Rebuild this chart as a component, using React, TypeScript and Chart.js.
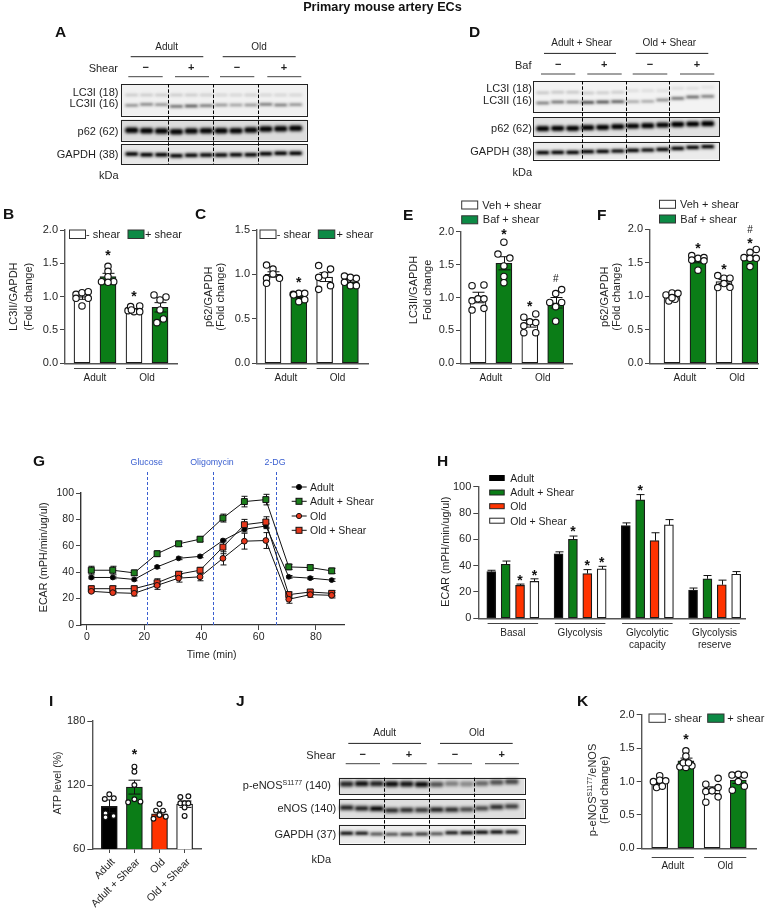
import React, { useEffect, useRef } from "react";
import { Chart, registerables } from "chart.js";

Chart.register(...registerables);
const FONT = '"Liberation Sans", Arial, Helvetica, sans-serif';
Chart.defaults.font.family = FONT;

const INK = "#1f1f1f";
const GREEN = "#0b7d17";
const LEGEND_GREEN = "#0c8a45";
const RED = "#ff3300";
const BLUE = "#3a5fd0";

// ---------- data: bar panels ----------
const B_MEANS = [1.0, 1.3, 0.8, 0.84];
const B_ERRS = [0.04, 0.05, 0.02, 0.07];
const B_DOTS = [
  [[-0.23, 1.035], [0, 1.06], [0.24, 1.075], [-0.23, 0.975], [0.24, 0.975], [0, 0.86]],
  [[0, 1.455], [0, 1.38], [0, 1.3], [-0.25, 1.225], [0.22, 1.225], [0, 1.215]],
  [[-0.23, 0.79], [-0.13, 0.85], [0.22, 0.86], [0, 0.775], [0.22, 0.775], [-0.1, 0.8]],
  [[-0.23, 1.025], [0.23, 0.995], [0, 0.95], [0, 0.8], [0.13, 0.665], [-0.12, 0.61]],
];
const B_MARKS = [[2, 1.64, "*"], [3, 1.025, "*"]];

const C_MEANS = [1.0, 0.76, 0.97, 0.92];
const C_ERRS = [0.03, 0.02, 0.05, 0.02];
const C_DOTS = [
  [[-0.25, 1.106], [0, 1.06], [-0.25, 0.956], [0, 1.005], [0.25, 0.956], [-0.25, 0.9]],
  [[-0.22, 0.776], [0, 0.787], [0.23, 0.787], [-0.2, 0.77], [0, 0.694], [0.23, 0.716]],
  [[-0.23, 1.1], [0.23, 1.06], [0, 0.994], [-0.23, 0.967], [0.23, 0.874], [-0.23, 0.832]],
  [[-0.23, 0.982], [0, 0.967], [0.23, 0.956], [-0.23, 0.911], [0, 0.874], [0.23, 0.874]],
];
const C_MARKS = [[2, 0.93, "*"]];

const E_MEANS = [1.0, 1.52, 0.6, 0.92];
const E_ERRS = [0.08, 0.1, 0.05, 0.08];
const E_DOTS = [
  [[-0.23, 1.18], [0.23, 1.19], [-0.23, 0.95], [0, 0.98], [0.23, 0.98], [-0.23, 0.81], [0.23, 0.835]],
  [[0, 1.84], [-0.23, 1.66], [0.23, 1.6], [0, 1.48], [0, 1.32], [0, 1.225]],
  [[-0.23, 0.7], [0.23, 0.75], [0, 0.63], [-0.23, 0.57], [0.23, 0.62], [0.23, 0.465], [-0.23, 0.465]],
  [[0.23, 1.12], [0, 1.06], [-0.23, 0.925], [0.23, 0.925], [0, 0.86], [0, 0.64]],
];
const E_MARKS = [[2, 1.99, "*"], [3, 0.9, "*"], [4, 1.27, "#"]];

const F_MEANS = [1.0, 1.53, 1.22, 1.57];
const F_ERRS = [0.03, 0.03, 0.03, 0.03];
const F_DOTS = [
  [[-0.23, 1.02], [0, 1.05], [0.23, 1.045], [-0.12, 0.93], [0.12, 0.955], [0, 0.98]],
  [[-0.24, 1.607], [0, 1.567], [0.23, 1.577], [-0.24, 1.54], [0, 1.39], [0.23, 1.53]],
  [[-0.24, 1.31], [0, 1.27], [0.23, 1.27], [0, 1.19], [-0.24, 1.13], [0.23, 1.134]],
  [[0.24, 1.7], [0, 1.657], [-0.23, 1.577], [0, 1.567], [0.24, 1.567], [0, 1.443]],
];
const F_MARKS = [[2, 1.75, "*"], [3, 1.43, "*"], [4, 1.825, "*"], [4, 1.99, "#"]];

const H_MEANS = [35.5, 41, 25, 28, 49, 60, 34, 37.5, 70.5, 90, 59, 71, 21.5, 30, 25.5, 33.5];
const H_ERRS = [1, 2.5, 1, 2, 1.5, 2.5, 3, 2, 2, 4, 6, 4, 1.5, 2.5, 3.5, 2];
const H_POSITIONS = [1, 2, 3, 4, 5.68, 6.68, 7.68, 8.68, 10.36, 11.36, 12.36, 13.36, 15.04, 16.04, 17.04, 18.04];
const H_MARKS = [[3, 30.6, "*"], [4, 34, "*"], [6.68, 67.6, "*"], [7.68, 41.8, "*"], [8.68, 43.8, "*"], [11.36, 98.7, "*"]];
const H_GROUPS = [
  [1, 4, "Basal"],
  [5.68, 8.68, "Glycolysis"],
  [10.36, 13.36, ["Glycolytic", "capacity"]],
  [15.04, 18.04, ["Glycolysis", "reserve"]],
];

const I_LABELS = ["Adult", "Adult + Shear", "Old", "Old + Shear"];
const I_MEANS = [100, 118, 93, 102];
const I_ERRS = [6, 6.5, 2, 3];
const I_DOTS = [
  [[0, 111.25], [-0.18, 106.9], [0.18, 107.5], [-0.15, 93.4], [-0.15, 89.7], [0.17, 90.9]],
  [[0, 137.2], [0, 132.5], [0, 120], [0, 106.6], [-0.25, 103.75], [0.24, 104.4]],
  [[0, 102.2], [-0.14, 96], [0.14, 96], [0, 91.9], [-0.24, 88.4], [0.25, 90.3]],
  [[-0.17, 108.75], [0.15, 109.4], [-0.17, 102.8], [0, 102.8], [0.15, 102.8], [0, 99], [0, 91]],
];
const I_MARKS = [[2, 150.6, "*"]];

const K_MEANS = [1.0, 1.31, 0.87, 1.02];
const K_ERRS = [0.03, 0.04, 0.05, 0.05];
const K_DOTS = [
  [[0, 1.087], [-0.24, 0.998], [0, 1.02], [0.23, 1.01], [-0.12, 0.91], [0.1, 0.93]],
  [[0, 1.46], [0, 1.38], [-0.23, 1.22], [0.23, 1.235], [0, 1.21], [-0.1, 1.28], [0.1, 1.28]],
  [[-0.24, 0.96], [0.23, 1.047], [-0.24, 0.85], [0.23, 0.91], [0, 0.86], [0.23, 0.77], [-0.24, 0.69]],
  [[-0.24, 1.097], [0, 1.107], [0.23, 1.097], [0, 1.0], [0.23, 0.93], [-0.23, 0.87]],
];
const K_MARKS = [[2, 1.655, "*"]];

const GROUP_LABELS = [[1, 2, "Adult"], [3, 4, "Old"]];
const WG = ["#ffffff", GREEN, "#ffffff", GREEN];
const H_COLORS = Array.from({ length: 16 }, (_, i) => ["#000000", GREEN, RED, "#ffffff"][i % 4]);
const I_COLORS = ["#000000", GREEN, RED, "#ffffff"];

// ---------- data: ECAR time course ----------
const G_TIME = [1.5, 9, 16.5, 24.5, 32, 39.5, 47.5, 55, 62.5, 70.5, 78, 85.5];
const G_ADULT = [36, 36, 34.5, 44, 50.5, 52, 64, 72.5, 75, 36.5, 35.5, 34];
const G_ADULT_SHEAR = [41.5, 41.5, 39.5, 54, 61.5, 65, 81, 93.5, 95, 44, 43.5, 41];
const G_OLD = [25.5, 24.5, 24, 30, 35.5, 36.5, 50.5, 63.5, 64, 19.5, 23, 22.5];
const G_OLD_SHEAR = [27.5, 27.5, 27.5, 32, 38.5, 41.5, 59, 76, 78, 23, 25, 24];
const G_ADULT_ERR = [1, 1, 1, 1, 1, 1, 1, 2, 2, 1, 1, 1];
const G_ADULT_SHEAR_ERR = [3, 3, 2, 2, 2, 2, 3, 4, 4, 2, 2, 2];
const G_OLD_ERR = [1, 1, 2, 3, 3, 3, 5, 6, 6, 3, 2, 2];
const G_OLD_SHEAR_ERR = [2, 2, 2, 3, 2, 2, 5, 4, 4, 2, 2, 2];
const G_XTICKS = [0, 20, 40, 60, 80];
const G_INJECTIONS = [21, 44, 66];

// ---------- data: blot band positions (y) and intensities (a), one per lane ----------
const A_LC3I_Y = [285, 285, 285, 285, 285, 285, 285, 285, 285, 285, 285, 285];
const A_LC3I_A = [0.14, 0.14, 0.14, 0.14, 0.14, 0.12, 0.1, 0.1, 0.12, 0.1, 0.1, 0.1];
const A_LC3II_Y = [316, 313, 314, 319, 318, 317, 315, 315, 315, 313, 315, 314];
const A_LC3II_A = [0.4, 0.45, 0.4, 0.55, 0.6, 0.5, 0.35, 0.3, 0.35, 0.5, 0.45, 0.4];
const A_P62_Y = [391, 392, 393, 395, 393, 392, 392, 392, 390, 387, 386, 385];
const A_P62_A = [0.97, 0.97, 0.97, 0.95, 0.95, 0.95, 0.97, 0.95, 0.95, 0.97, 0.95, 0.97];
const A_GAPDH_Y = [462, 464, 464, 467, 466, 465, 465, 464, 464, 461, 460, 460];
const A_GAPDH_A = [1, 1, 1, 0.97, 0.97, 0.97, 0.97, 0.97, 0.97, 1, 1, 1];

const D_LC3I_Y = [278, 277, 277, 279, 278, 277, 272, 272, 272, 265, 265, 262];
const D_LC3I_A = [0.16, 0.16, 0.16, 0.15, 0.14, 0.14, 0.08, 0.08, 0.08, 0.08, 0.08, 0.06];
const D_LC3II_Y = [309, 306, 306, 307, 306, 305, 305, 304, 300, 295, 291, 289];
const D_LC3II_A = [0.45, 0.5, 0.45, 0.75, 0.65, 0.65, 0.3, 0.3, 0.4, 0.55, 0.55, 0.5];
const D_P62_Y = [386, 385, 385, 383, 382, 380, 378, 377, 375, 373, 372, 371];
const D_P62_A = [0.97, 0.97, 0.97, 0.97, 0.97, 0.97, 0.97, 0.97, 0.97, 1, 1, 1];
const D_GAPDH_Y = [458, 457, 457, 455, 454, 453, 451, 450, 448, 445, 442, 440];
const D_GAPDH_A = [1, 1, 1, 1, 1, 1, 1, 1, 1, 1, 1, 1];

const J_PENOS_Y = [312, 311, 311, 312, 312, 313, 313, 311, 312, 310, 307, 305];
const J_PENOS_A = [0.75, 0.9, 0.8, 0.9, 0.85, 0.95, 0.55, 0.35, 0.3, 0.45, 0.55, 0.6];
const J_ENOS_Y = [383, 385, 386, 391, 390, 390, 389, 389, 388, 385, 381, 379];
const J_ENOS_A = [0.8, 0.8, 0.98, 0.75, 0.7, 0.65, 0.8, 0.75, 0.6, 0.6, 0.7, 0.65];
const J_GAPDH_Y = [460, 460, 462, 463, 463, 462, 461, 458, 458, 457, 456, 456];
const J_GAPDH_A = [0.95, 0.9, 0.6, 0.6, 0.7, 0.75, 0.6, 0.9, 0.95, 1, 1, 0.9];

// ---------- shared chart pieces ----------
function drawMarks(chart, marks) {
  const { ctx, scales } = chart;
  ctx.save();
  ctx.fillStyle = "#111";
  ctx.textAlign = "center";
  for (const [x, y, t] of marks) {
    const px = scales.x.getPixelForValue(x);
    const py = scales.y.getPixelForValue(y);
    if (t === "*") {
      ctx.font = `bold 14px ${FONT}`;
      ctx.textBaseline = "alphabetic";
      ctx.fillText(t, px, py + 6.5);
    } else {
      ctx.font = `10px ${FONT}`;
      ctx.textBaseline = "middle";
      ctx.fillText(t, px, py);
    }
  }
  ctx.restore();
}

function drawErrs(chart, items, cap, upOnly) {
  const { ctx, scales } = chart;
  ctx.save();
  ctx.lineWidth = 1;
  ctx.strokeStyle = "#111";
  for (const [x, y, e] of items) {
    const px = Math.round(scales.x.getPixelForValue(x)) + 0.5;
    const hi = scales.y.getPixelForValue(y + e);
    const lo = scales.y.getPixelForValue(upOnly ? y : y - e);
    ctx.beginPath();
    ctx.moveTo(px, lo);
    ctx.lineTo(px, hi);
    ctx.moveTo(px - cap, hi);
    ctx.lineTo(px + cap, hi);
    if (!upOnly) {
      ctx.moveTo(px - cap, lo);
      ctx.lineTo(px + cap, lo);
    }
    ctx.stroke();
  }
  ctx.restore();
}

function yAxis(p, marginL, digits) {
  return {
    type: "linear",
    min: p.yMin ?? 0,
    max: p.yMax,
    ticks: {
      stepSize: p.yStep,
      color: INK,
      font: { size: p.fontSize ?? 11 },
      padding: 2,
      callback: (v) => Number(v).toFixed(digits),
    },
    grid: { drawOnChartArea: false, drawTicks: true, tickLength: 5, color: "#444", lineWidth: 1 },
    border: { display: true, color: p.axis ?? "#555", width: 1.4 },
    afterFit: (s) => { s.width = marginL; },
  };
}

function barConfig(p) {
  const pos = p.positions ?? p.means.map((_, i) => i + 1);
  const xMin = 1 - (p.c0 - p.x0) / p.step;
  const xMax = xMin + (p.x1 - p.x0) / p.step;
  const datasets = [];
  if (p.dots) {
    datasets.push({
      type: "scatter",
      order: 0,
      clip: false,
      data: p.dots.flatMap((d, i) => d.map(([dx, v]) => ({ x: pos[i] + dx, y: v }))),
      pointRadius: p.r ?? 3.2,
      pointBackgroundColor: "#ffffff",
      pointBorderColor: "#111",
      pointBorderWidth: 1.15,
      showLine: false,
    });
  }
  datasets.push({
    type: "bar",
    order: 1,
    data: p.means.map((m, i) => ({ x: pos[i], y: m })),
    backgroundColor: p.colors,
    borderColor: "#1a1a1a",
    borderWidth: 1.2,
    borderSkipped: false,
    barThickness: p.barW,
  });
  const tickDefs = p.ticksAt;
  const items = p.means.map((m, i) => [pos[i], m, p.errs[i]]);
  return {
    type: "bar",
    data: { datasets },
    plugins: [{
      id: "overlay",
      afterDatasetDraw(chart, args) {
        if (chart.data.datasets[args.index].type === "bar") drawErrs(chart, items, p.cap ?? 5, p.upOnly);
      },
      afterDatasetsDraw(chart) {
        const { ctx, scales, chartArea } = chart;
        if (p.groups) {
          ctx.save();
          ctx.strokeStyle = p.groupColor ?? "#444";
          ctx.lineWidth = 1;
          const y = Math.round(chartArea.bottom + p.groupDrop) + 0.5;
          for (const [a, b] of p.groups) {
            ctx.beginPath();
            ctx.moveTo(scales.x.getPixelForValue(a) - p.groupHalf, y);
            ctx.lineTo(scales.x.getPixelForValue(b) + p.groupHalf, y);
            ctx.stroke();
          }
          ctx.restore();
        }
        drawMarks(chart, p.marks);
      },
    }],
    options: {
      responsive: false,
      animation: false,
      events: [],
      layout: { padding: { top: p.mT, right: p.mR, left: 0, bottom: 0 } },
      plugins: { legend: { display: false }, tooltip: { enabled: false } },
      scales: {
        x: {
          type: "linear",
          offset: false,
          min: xMin,
          max: xMax,
          afterBuildTicks: (s) => {
            s.ticks = tickDefs.map((t) => ({ value: t.v }));
          },
          ticks: {
            autoSkip: false,
            color: INK,
            font: { size: p.xFont ?? 10 },
            padding: p.xPad ?? 8.5,
            labelOffset: p.xShift ?? 0,
            maxRotation: p.rot ?? 0,
            minRotation: p.rot ?? 0,
            callback: (v) => tickDefs.find((t) => Math.abs(t.v - v) < 1e-6)?.label ?? "",
          },
          grid: {
            offset: false,
            drawOnChartArea: false,
            drawTicks: !!p.rot,
            tickLength: p.rot ? 4 : 0,
            color: "#444",
          },
          border: { display: true, color: p.axis ?? "#555", width: 1.4 },
          afterFit: (s) => { s.height = p.mB; },
        },
        y: yAxis(p, p.mL, p.digits ?? 1),
      },
    },
  };
}

function groupTicks(groups) {
  return groups.map(([a, b, label]) => ({ v: (a + b) / 2, label }));
}

function fourBars(c) {
  return {
    mL: 45, mR: 6, mT: 14, mB: 32, barW: 16, cap: 6,
    groups: GROUP_LABELS, groupDrop: 5, groupHalf: 8,
    ticksAt: groupTicks(GROUP_LABELS), colors: WG, ...c,
  };
}

const PB = fourBars({ x0: 65, x1: 177, top: 230, bottom: 363.3, c0: 82, step: 26, yMax: 2, yStep: 0.5, means: B_MEANS, errs: B_ERRS, dots: B_DOTS, marks: B_MARKS });
const PC = fourBars({ x0: 257, x1: 368.3, top: 230, bottom: 363.3, c0: 273, step: 25.8, yMax: 1.5, yStep: 0.5, means: C_MEANS, errs: C_ERRS, dots: C_DOTS, marks: C_MARKS });
const PE = fourBars({ x0: 461, x1: 572.3, top: 231.7, bottom: 363.3, c0: 478, step: 25.9, yMax: 2, yStep: 0.5, means: E_MEANS, errs: E_ERRS, dots: E_DOTS, marks: E_MARKS });
const PF = fourBars({ x0: 650, x1: 758.3, top: 229.3, bottom: 363.3, c0: 672, step: 26, yMax: 2, yStep: 0.5, means: F_MEANS, errs: F_ERRS, dots: F_DOTS, marks: F_MARKS, groupColor: "#111" });
const PK = fourBars({ x0: 641.7, x1: 756, top: 714.7, bottom: 848.3, c0: 659.7, step: 26.2, yMax: 2, yStep: 0.5, means: K_MEANS, errs: K_ERRS, dots: K_DOTS, marks: K_MARKS, groupDrop: 9, xPad: 12 });
const PH = {
  x0: 478.3, x1: 745, top: 486.7, bottom: 618.3, c0: 491.3, step: 14.37,
  mL: 45, mR: 6, mT: 14, mB: 46, barW: 9, cap: 4, upOnly: true,
  yMax: 100, yStep: 20, digits: 0, positions: H_POSITIONS, colors: H_COLORS,
  means: H_MEANS, errs: H_ERRS, marks: H_MARKS,
  groups: H_GROUPS, groupDrop: 5, groupHalf: 3.7, ticksAt: groupTicks(H_GROUPS), xPad: 9,
};
const PI = {
  x0: 92.3, x1: 201.7, top: 721, bottom: 849, c0: 109.3, step: 25.1,
  mL: 45, mR: 6, mT: 14, mB: 60, barW: 16, cap: 6, r: 2.4,
  yMin: 60, yMax: 180, yStep: 60, digits: 0, colors: I_COLORS,
  means: I_MEANS, errs: I_ERRS, dots: I_DOTS, marks: I_MARKS, rot: 45, xPad: 3, xFont: 10.5, xShift: 4,
  ticksAt: I_LABELS.map((label, i) => ({ v: i + 1, label })),
};

const GX0 = 86.7;
const GXU = 2.865;
const PG = { x0: 80.7, x1: 344, top: 492.7, bottom: 624.3, mL: 45, mR: 6, mT: 40, mB: 26, yMax: 100, yStep: 20, fontSize: 10.5, axis: "#333" };

function gSeries(values, style) {
  return {
    data: values.map((v, i) => ({ x: G_TIME[i], y: v })),
    borderColor: "#111",
    borderWidth: 1,
    pointBorderColor: "#111",
    pointBorderWidth: 1,
    tension: 0,
    clip: false,
    ...style,
  };
}

function gConfig() {
  const all = [
    [G_ADULT, G_ADULT_ERR],
    [G_ADULT_SHEAR, G_ADULT_SHEAR_ERR],
    [G_OLD, G_OLD_ERR],
    [G_OLD_SHEAR, G_OLD_SHEAR_ERR],
  ];
  return {
    type: "line",
    data: {
      datasets: [
        gSeries(G_OLD, { label: "Old", pointStyle: "circle", pointRadius: 2.9, pointBackgroundColor: "#e8371b", order: 0 }),
        gSeries(G_OLD_SHEAR, { label: "Old + Shear", pointStyle: "rect", pointRadius: 4.2, pointBackgroundColor: "#e8371b", order: 1 }),
        gSeries(G_ADULT, { label: "Adult", pointStyle: "circle", pointRadius: 2.4, pointBackgroundColor: "#000", order: 2 }),
        gSeries(G_ADULT_SHEAR, { label: "Adult + Shear", pointStyle: "rect", pointRadius: 4.2, pointBackgroundColor: "#1c7f1c", order: 3 }),
      ],
    },
    plugins: [{
      id: "overlay",
      beforeDatasetsDraw(chart) {
        const { ctx, scales } = chart;
        ctx.save();
        ctx.strokeStyle = BLUE;
        ctx.lineWidth = 1;
        ctx.setLineDash([3, 2]);
        for (const t of G_INJECTIONS) {
          const x = Math.round(scales.x.getPixelForValue(t)) + 0.5;
          ctx.beginPath();
          ctx.moveTo(x, scales.y.getPixelForValue(0));
          ctx.lineTo(x, scales.y.getPixelForValue(117));
          ctx.stroke();
        }
        ctx.restore();
        for (const [vals, errs] of all) {
          drawErrs(chart, vals.map((v, i) => [G_TIME[i], v, errs[i]]), 3, false);
        }
      },
    }],
    options: {
      responsive: false,
      animation: false,
      events: [],
      layout: { padding: { top: PG.mT, right: PG.mR, left: 0, bottom: 0 } },
      plugins: { legend: { display: false }, tooltip: { enabled: false } },
      scales: {
        x: {
          type: "linear",
          min: (PG.x0 - GX0) / GXU,
          max: (PG.x1 - GX0) / GXU,
          afterBuildTicks: (s) => { s.ticks = G_XTICKS.map((value) => ({ value })); },
          ticks: { color: INK, font: { size: 10.5 }, padding: 1, maxRotation: 0, autoSkip: false },
          grid: { drawOnChartArea: false, tickLength: 5, color: "#444" },
          border: { display: true, color: "#333", width: 1.2 },
          afterFit: (s) => { s.height = PG.mB; },
        },
        y: yAxis(PG, PG.mL, 0),
      },
    },
  };
}

// ---------- blots ----------
function blotConfig(b) {
  const lane = (px) => (px - b.firstX) / b.stepX;
  const toY = (py) => (py - b.offsetY) * 3;
  const datasets = [];
  for (const row of b.rows) {
    for (const band of row.bands) {
      band.y.forEach((y, i) => {
        const half = (b.stepX * 0.42 - band.w / 2) / b.stepX;
        const seg = [{ x: i - half, y }, { x: i + half, y }];
        const common = { data: seg, pointRadius: 0, borderCapStyle: "round", clip: false, tension: 0 };
        datasets.push({ ...common, borderColor: `rgba(0,0,0,${band.a[i]})`, borderWidth: band.w, order: 0 });
        datasets.push({ ...common, borderColor: `rgba(0,0,0,${band.a[i] * row.halo})`, borderWidth: band.w + 4, order: 1 });
      });
    }
  }
  return {
    type: "line",
    data: { datasets },
    plugins: [{
      id: "blot",
      beforeDatasetsDraw(chart) {
        const { ctx, scales } = chart;
        const xL = scales.x.getPixelForValue(lane(b.frameL));
        const xR = scales.x.getPixelForValue(lane(b.frameR));
        for (const row of b.rows) {
          ctx.fillStyle = row.bg;
          const t = scales.y.getPixelForValue(row.top);
          ctx.fillRect(xL, t, xR - xL, scales.y.getPixelForValue(row.bottom) - t);
        }
        ctx.save();
        ctx.filter = "blur(0.8px)";
      },
      afterDatasetsDraw(chart) {
        const { ctx, scales } = chart;
        ctx.restore();
        const xL = scales.x.getPixelForValue(lane(b.frameL));
        const xR = scales.x.getPixelForValue(lane(b.frameR));
        ctx.save();
        ctx.strokeStyle = "#222";
        ctx.lineWidth = 1;
        for (const row of b.rows) {
          const t = scales.y.getPixelForValue(row.top);
          ctx.strokeRect(Math.round(xL) + 0.5, Math.round(t) + 0.5, Math.round(xR - xL), Math.round(scales.y.getPixelForValue(row.bottom) - t));
        }
        ctx.strokeStyle = "#000";
        ctx.setLineDash([3.5, 1.8]);
        const first = b.rows[0];
        const last = b.rows[b.rows.length - 1];
        for (const d of b.dashes) {
          const x = Math.round(scales.x.getPixelForValue(d)) + 0.5;
          ctx.beginPath();
          ctx.moveTo(x, scales.y.getPixelForValue(first.top));
          ctx.lineTo(x, scales.y.getPixelForValue(last.bottom));
          ctx.stroke();
        }
        ctx.restore();
      },
    }],
    options: {
      responsive: false,
      animation: false,
      events: [],
      plugins: { legend: { display: false }, tooltip: { enabled: false } },
      scales: {
        x: { type: "linear", display: false, min: lane(b.left), max: lane(b.left + b.width) },
        y: { type: "linear", display: false, reverse: true, min: toY(b.top), max: toY(b.top + b.height) },
      },
    },
  };
}

const BLOT_A = {
  left: 119, width: 190, top: 82, height: 84, offsetY: 0, firstX: 131.7, stepX: 14.9, frameL: 120.7, frameR: 306.7,
  dashes: [2.46, 5.44, 8.46],
  rows: [
    { top: 252, bottom: 347, bg: "#f1f1f1", halo: 0.12, bands: [{ y: A_LC3I_Y, a: A_LC3I_A, w: 2.5 }, { y: A_LC3II_Y, a: A_LC3II_A, w: 2.4 }] },
    { top: 359, bottom: 422, bg: "#dcdcdc", halo: 0.22, bands: [{ y: A_P62_Y, a: A_P62_A, w: 5 }] },
    { top: 433, bottom: 493, bg: "#e8e8e8", halo: 0.15, bands: [{ y: A_GAPDH_Y, a: A_GAPDH_A, w: 3.5 }] },
  ],
};
const BLOT_D = {
  left: 532, width: 190, top: 79, height: 83, offsetY: 0, firstX: 542.7, stepX: 15, frameL: 533.3, frameR: 719.3,
  dashes: [2.6, 5.55, 8.45],
  rows: [
    { top: 243, bottom: 337, bg: "#f3f3f3", halo: 0.12, bands: [{ y: D_LC3I_Y, a: D_LC3I_A, w: 2.5 }, { y: D_LC3II_Y, a: D_LC3II_A, w: 2.4 }] },
    { top: 352, bottom: 409, bg: "#e2e2e2", halo: 0.2, bands: [{ y: D_P62_Y, a: D_P62_A, w: 4.6 }] },
    { top: 425, bottom: 478, bg: "#ebebeb", halo: 0.15, bands: [{ y: D_GAPDH_Y, a: D_GAPDH_A, w: 3.2 }] },
  ],
};
const BLOT_J = {
  left: 337, width: 190, top: 776, height: 70, offsetY: 680, firstX: 346.7, stepX: 15, frameL: 338.7, frameR: 524.3,
  dashes: [2.5, 5.5, 8.5],
  rows: [
    { top: 293, bottom: 342, bg: "#dedede", halo: 0.3, bands: [{ y: J_PENOS_Y, a: J_PENOS_A, w: 4.4 }] },
    { top: 358, bottom: 414, bg: "#dedede", halo: 0.3, bands: [{ y: J_ENOS_Y, a: J_ENOS_A, w: 3.8 }] },
    { top: 434, bottom: 490, bg: "#ececec", halo: 0.15, bands: [{ y: J_GAPDH_Y, a: J_GAPDH_A, w: 3 }] },
  ],
};

// ---------- components ----------
function Canvas({ left, top, width, height, build }) {
  const ref = useRef(null);
  useEffect(() => {
    const chart = new Chart(ref.current, build());
    return () => chart.destroy();
  }, []);
  return <canvas ref={ref} width={width} height={height} style={{ position: "absolute", left, top, display: "block" }} />;
}

function PlotCanvas({ p, config }) {
  const left = Math.round(p.x0 - p.mL);
  const top = Math.round(p.top - p.mT);
  const fix = { ...p, mL: p.x0 - left, mT: p.top - top };
  const width = Math.ceil(p.x1 + p.mR - left);
  const height = Math.ceil(p.bottom + p.mB - top);
  const fixed = { ...fix, mR: width - (p.x1 - left), mB: height - (p.bottom - top) };
  return <Canvas left={left} top={top} width={width} height={height} build={() => config(fixed)} />;
}

function T({ x, y, a = "start", s = 11, b = false, c = INK, r = 0, children }) {
  return (
    <text
      x={x}
      y={y}
      textAnchor={a}
      dominantBaseline="central"
      fontSize={s}
      fontWeight={b ? "bold" : "normal"}
      fill={c}
      transform={r ? `rotate(${r} ${x} ${y})` : undefined}
    >
      {children}
    </text>
  );
}

function Rule({ x1, x2, y, c = "#333" }) {
  return <line x1={x1} x2={x2} y1={y} y2={y} stroke={c} strokeWidth={1} />;
}

function Box({ x, y, w, h, fill }) {
  return <rect x={x} y={y} width={w} height={h} fill={fill} stroke="#333" strokeWidth={1} />;
}

function BlotHeader({ groups, sign, signRight, signY, lineY, names, nameY, sideLabels }) {
  return (
    <g>
      {groups.map(([t, cx, x1, x2], i) => (
        <g key={i}>
          <T x={cx} y={nameY} a="middle" s={10}>{t}</T>
          <Rule x1={x1} x2={x2} y={nameY + 10.7} c="#222" />
        </g>
      ))}
      <T x={signRight} y={signY + 1} a="end">{sign}</T>
      {names.map(([t, cx, x1, x2], i) => (
        <g key={i}>
          <T x={cx} y={signY} a="middle" s={11} b>{t}</T>
          <Rule x1={x1} x2={x2} y={lineY} c="#444" />
        </g>
      ))}
      {sideLabels.map(([t, y], i) => (
        <T key={i} x={signRight + 0.5} y={y} a="end">{t}</T>
      ))}
    </g>
  );
}

function GMarker({ y, kind, fill }) {
  return (
    <g>
      <line x1={291.7} x2={306.7} y1={y} y2={y} stroke="#111" strokeWidth={1} />
      {kind === "c" ? (
        <circle cx={299} cy={y} r={2.6} fill={fill} stroke="#111" />
      ) : (
        <rect x={296} y={y - 3} width={6} height={6} fill={fill} stroke="#111" />
      )}
    </g>
  );
}

export default function App() {
  return (
    <div style={{ position: "absolute", left: 0, top: 0, width: 770, height: 910, overflow: "hidden", background: "#fff", fontFamily: FONT }}>
      <Canvas left={BLOT_A.left} top={BLOT_A.top} width={BLOT_A.width} height={BLOT_A.height} build={() => blotConfig(BLOT_A)} />
      <Canvas left={BLOT_D.left} top={BLOT_D.top} width={BLOT_D.width} height={BLOT_D.height} build={() => blotConfig(BLOT_D)} />
      <Canvas left={BLOT_J.left} top={BLOT_J.top} width={BLOT_J.width} height={BLOT_J.height} build={() => blotConfig(BLOT_J)} />
      <PlotCanvas p={PB} config={barConfig} />
      <PlotCanvas p={PC} config={barConfig} />
      <PlotCanvas p={PE} config={barConfig} />
      <PlotCanvas p={PF} config={barConfig} />
      <PlotCanvas p={PH} config={barConfig} />
      <PlotCanvas p={PI} config={barConfig} />
      <PlotCanvas p={PK} config={barConfig} />
      <PlotCanvas p={PG} config={gConfig} />
      <svg width={770} height={910} style={{ position: "absolute", left: 0, top: 0, pointerEvents: "none" }} fontFamily={FONT}>
        <T x={382.5} y={7} a="middle" s={12.7} b c="#111">Primary mouse artery ECs</T>

        {[["A", 55, 31.7], ["D", 469, 31.7], ["B", 3, 213.5], ["C", 195, 213.5], ["E", 403, 214], ["F", 597, 214], ["G", 33, 460.7], ["H", 437, 460], ["I", 49, 700], ["J", 236, 700], ["K", 577, 700]].map(([t, x, y]) => (
          <T key={t} x={x} y={y} s={15.5} b c="#111">{t}</T>
        ))}

        <BlotHeader
          groups={[["Adult", 166.7, 130.7, 203.3], ["Old", 259, 222.7, 295.7]]}
          nameY={46}
          sign="Shear"
          signRight={118}
          signY={66.5}
          lineY={76.7}
          names={[["−", 145.7, 128.3, 162.7], ["+", 191.3, 175, 209], ["−", 237, 220, 254.3], ["+", 284, 267.3, 301.3]]}
          sideLabels={[["LC3I (18)", 91.7], ["LC3II (16)", 103.3], ["p62 (62)", 131.3], ["GAPDH (38)", 154], ["kDa", 175]]}
        />
        <BlotHeader
          groups={[["Adult + Shear", 581.7, 544, 616], ["Old + Shear", 669.3, 635.7, 708.3]]}
          nameY={42.7}
          sign="Baf"
          signRight={531.5}
          signY={64}
          lineY={74}
          names={[["−", 558.3, 541, 575.3], ["+", 604.3, 587.3, 621.7], ["−", 650, 632.7, 667.3], ["+", 697, 680, 714.3]]}
          sideLabels={[["LC3I (18)", 87.7], ["LC3II (16)", 100], ["p62 (62)", 128.3], ["GAPDH (38)", 150.7], ["kDa", 171.7]]}
        />
        <BlotHeader
          groups={[["Adult", 384.7, 348.3, 421], ["Old", 476.7, 440, 512.7]]}
          nameY={732.7}
          sign="Shear"
          signRight={335.7}
          signY={754}
          lineY={763.7}
          names={[["−", 362.7, 345.7, 380], ["+", 409, 392.3, 426.7], ["−", 455, 437.7, 472], ["+", 501.7, 485, 519]]}
          sideLabels={[["eNOS (140)", 808], ["GAPDH (37)", 834]]}
        />
        <T x={331} y={785.3} a="end">
          p-eNOS<tspan fontSize={7} dy={-3}>S1177</tspan><tspan dy={3}> (140)</tspan>
        </T>
        <T x={331} y={859} a="end">kDa</T>

        {/* B */}
        <T x={13.5} y={296.7} a="middle" r={-90}>LC3II/GAPDH</T>
        <T x={28.5} y={296.7} a="middle" r={-90}>(Fold change)</T>
        <Box x={69.5} y={230} w={16} h={8.5} fill="#fff" />
        <T x={86} y={234.3}>- shear</T>
        <Box x={128} y={230} w={16} h={8.5} fill={LEGEND_GREEN} />
        <T x={145} y={234.3}>+ shear</T>

        {/* C */}
        <T x={208.3} y={296.7} a="middle" r={-90}>p62/GAPDH</T>
        <T x={220.5} y={296.7} a="middle" r={-90}>(Fold change)</T>
        <Box x={260} y={230} w={16} h={8.5} fill="#fff" />
        <T x={276.7} y={234.3}>- shear</T>
        <Box x={318.3} y={230} w={16.5} h={8.5} fill={LEGEND_GREEN} />
        <T x={336.5} y={234.3}>+ shear</T>

        {/* E */}
        <T x={413.3} y={290} a="middle" r={-90}>LC3II/GAPDH</T>
        <T x={426.7} y={290} a="middle" r={-90}>Fold change</T>
        <Box x={461.7} y={201} w={16} h={8} fill="#fff" />
        <T x={482.3} y={205}>Veh + shear</T>
        <Box x={461.7} y={215.8} w={16} h={8} fill={LEGEND_GREEN} />
        <T x={482.8} y={219.3}>Baf + shear</T>

        {/* F */}
        <T x={604} y={296.7} a="middle" r={-90}>p62/GAPDH</T>
        <T x={615.7} y={296.7} a="middle" r={-90}>(Fold change)</T>
        <Box x={659.5} y={200.3} w={16} h={8} fill="#fff" />
        <T x={680} y={204.3}>Veh + shear</T>
        <Box x={659.5} y={215} w={16} h={8} fill={LEGEND_GREEN} />
        <T x={680.3} y={218.7}>Baf + shear</T>

        {/* G */}
        <T x={42.7} y={557.3} a="middle" s={10.7} r={-90}>ECAR (mPH/min/ug/ul)</T>
        <T x={211.7} y={654.3} a="middle" s={10.5}>Time (min)</T>
        <T x={146.7} y={462.3} a="middle" s={8.8} c={BLUE}>Glucose</T>
        <T x={212} y={461.7} a="middle" s={8.8} c={BLUE}>Oligomycin</T>
        <T x={275} y={462} a="middle" s={8.8} c={BLUE}>2-DG</T>
        <GMarker y={487} kind="c" fill="#000" />
        <GMarker y={501.3} kind="r" fill="#1c7f1c" />
        <GMarker y={516} kind="c" fill="#e8371b" />
        <GMarker y={530.3} kind="r" fill="#e8371b" />
        <T x={310} y={487} s={10.5}>Adult</T>
        <T x={310} y={501.3} s={10.5}>Adult + Shear</T>
        <T x={310} y={515.5} s={10.5}>Old</T>
        <T x={310} y={530.3} s={10.5}>Old + Shear</T>

        {/* H */}
        <T x={445} y={551.7} a="middle" s={10.7} r={-90}>ECAR (mPH/min/ug/ul)</T>
        <rect x={489.7} y={475.5} width={14.5} height={5} fill="#000" stroke="#000" />
        <rect x={489.7} y={490} width={14.5} height={5} fill={GREEN} stroke="#222" />
        <rect x={489.7} y={503.7} width={14.5} height={5} fill={RED} stroke="#222" />
        <rect x={489.7} y={518.2} width={14.5} height={5} fill="#fff" stroke="#222" />
        <T x={510.3} y={478} s={10.5}>Adult</T>
        <T x={510.3} y={492.3} s={10.5}>Adult + Shear</T>
        <T x={510.3} y={506} s={10.5}>Old</T>
        <T x={510.3} y={520.7} s={10.5}>Old + Shear</T>

        {/* I */}
        <T x={57.3} y={783} a="middle" s={10.5} r={-90}>ATP level (%)</T>

        {/* K */}
        <T x={592} y={790} a="middle" r={-90}>
          p-eNOS<tspan fontSize={7} dy={-3}>S1177</tspan><tspan dy={3}>/eNOS</tspan>
        </T>
        <T x={604} y={790} a="middle" r={-90}>(Fold change)</T>
        <Box x={649} y={714} w={16.3} h={8.3} fill="#fff" />
        <T x={667.7} y={718}>- shear</T>
        <Box x={707.7} y={714} w={16.3} h={8.3} fill={LEGEND_GREEN} />
        <T x={727.3} y={718}>+ shear</T>
      </svg>
    </div>
  );
}
